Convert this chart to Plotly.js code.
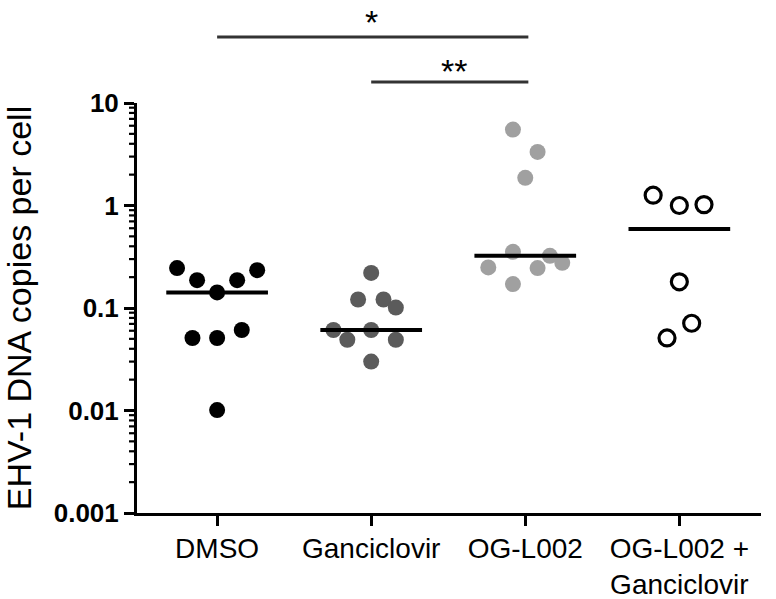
<!DOCTYPE html>
<html>
<head>
<meta charset="utf-8">
<script src="https://cdn.plot.ly/plotly-3.0.1.min.js"></script>
<style>html,body{margin:0;padding:0;background:#fff;}#chart{width:776px;height:599px;}</style>
</head>
<body>
<div id="chart"></div>
<script>
// ---- data ----
const categories = ['DMSO', 'Ganciclovir', 'OG-L002', 'OG-L002 +<br>Ganciclovir'];
const dmso        = [0.245, 0.187, 0.142, 0.187, 0.234, 0.051, 0.051, 0.061, 0.0101];
const ganciclovir = [0.220, 0.121, 0.121, 0.101, 0.061, 0.049, 0.061, 0.049, 0.030];
const ogl002      = [5.5, 3.33, 1.86, 0.353, 0.323, 0.249, 0.245, 0.276, 0.171];
const combo       = [1.26, 1.0, 1.02, 0.180, 0.071, 0.051];
const medians     = [0.142, 0.061, 0.323, 0.59];
const yTickVals   = [0.001, 0.01, 0.1, 1, 10];
const yTickText   = ['0.001', '0.01', '0.1', '1', '10'];
const comparisons = [
  {from: 0, to: 2, label: '*'},
  {from: 1, to: 2, label: '**'}
];

// horizontal spread of points within each column (layout only)
const spread = [
  [-0.26, -0.13, 0, 0.13, 0.26, -0.16, 0, 0.16, 0],
  [0, -0.085, 0.08, 0.16, -0.245, -0.155, 0, 0.16, 0],
  [-0.08, 0.08, 0, -0.08, 0.16, -0.24, 0.08, 0.24, -0.08],
  [-0.17, 0, 0.16, 0, 0.08, -0.08]
];

// minor log ticks (2..9 within each decade)
const minorTicks = [];
for (let d = 0; d < yTickVals.length - 1; d++) {
  for (let m = 2; m <= 9; m++) minorTicks.push(yTickVals[d] * m);
}

const xRange = [-0.52, 3.53];
const yLogRange = [-3, 1];
const groups = [dmso, ganciclovir, ogl002, combo];
const markerStyles = [
  {color: '#000000', size: 16, line: {width: 0}},
  {color: '#5b5b5b', size: 16, line: {width: 0}},
  {color: '#a0a0a0', size: 16, line: {width: 0}},
  {color: 'rgba(255,255,255,0)', size: 16, line: {color: '#000000', width: 3.2}}
];

const traces = groups.map((vals, gi) => ({
  type: 'scatter', mode: 'markers',
  x: vals.map((v, k) => gi + spread[gi][k]),
  y: vals,
  marker: Object.assign({symbol: 'circle'}, markerStyles[gi]),
  hoverinfo: 'y', showlegend: false
}));

// median lines
const halfW = 0.33;
const mx = [], my = [];
medians.forEach((m, i) => { mx.push(i - halfW, i + halfW, null); my.push(m, m, null); });
traces.push({type: 'scatter', mode: 'lines', x: mx, y: my,
  line: {color: '#000', width: 4}, hoverinfo: 'skip', showlegend: false});

const bracketY = [1.161, 1.051];
const starY = [1.198, 1.078];
const shapes = comparisons.map((c, i) => ({
  type: 'line', xref: 'x', yref: 'paper',
  x0: c.from, x1: c.to + 0.02, y0: bracketY[i], y1: bracketY[i],
  line: {color: '#333', width: 3}
}));
// minor tick marks (paper coordinates so they are never clipped)
const plotW = 776 - 137 - 15;
minorTicks.forEach(v => {
  const p = (Math.log10(v) - yLogRange[0]) / (yLogRange[1] - yLogRange[0]);
  shapes.push({type: 'line', xref: 'paper', yref: 'paper',
    x0: -8 / plotW, x1: 0, y0: p, y1: p, line: {color: '#000', width: 2.2}});
});
const annotations = comparisons.map((c, i) => ({
  xref: 'x', yref: 'paper', x: (c.from + c.to) / 2 + (i === 1 ? 0.04 : 0), y: starY[i],
  text: c.label, showarrow: false, xanchor: 'center', yanchor: 'middle',
  font: {family: 'Liberation Sans, Arial, sans-serif', size: 34, color: '#000'}
}));

const layout = {
  width: 776, height: 599,
  margin: {l: 137, r: 15, t: 103, b: 86},
  paper_bgcolor: '#fff', plot_bgcolor: '#fff',
  font: {family: 'Liberation Sans, Arial, sans-serif', color: '#000'},
  xaxis: {
    range: xRange,
    tickmode: 'array', tickvals: categories.map((c, i) => i), ticktext: categories,
    showgrid: false, zeroline: false,
    showline: true, linecolor: '#000', linewidth: 3,
    ticks: 'outside', ticklen: 10, tickwidth: 3, tickcolor: '#000',
    ticklabelstandoff: -2,
    tickfont: {size: 28, color: '#000'}
  },
  yaxis: {
    type: 'log', range: yLogRange,
    tickmode: 'array', tickvals: yTickVals, ticktext: yTickText,
    showgrid: false, zeroline: false,
    showline: true, linecolor: '#000', linewidth: 3,
    ticks: 'outside', ticklen: 10, tickwidth: 3, tickcolor: '#000',
    tickfont: {size: 26, color: '#000', weight: 'bold'},
    title: {text: 'EHV-1 DNA copies per cell', font: {size: 34, color: '#000'}, standoff: 12}
  },
  shapes: shapes,
  annotations: annotations
};

Plotly.newPlot('chart', traces, layout, {displayModeBar: false, staticPlot: true});
</script>
</body>
</html>
